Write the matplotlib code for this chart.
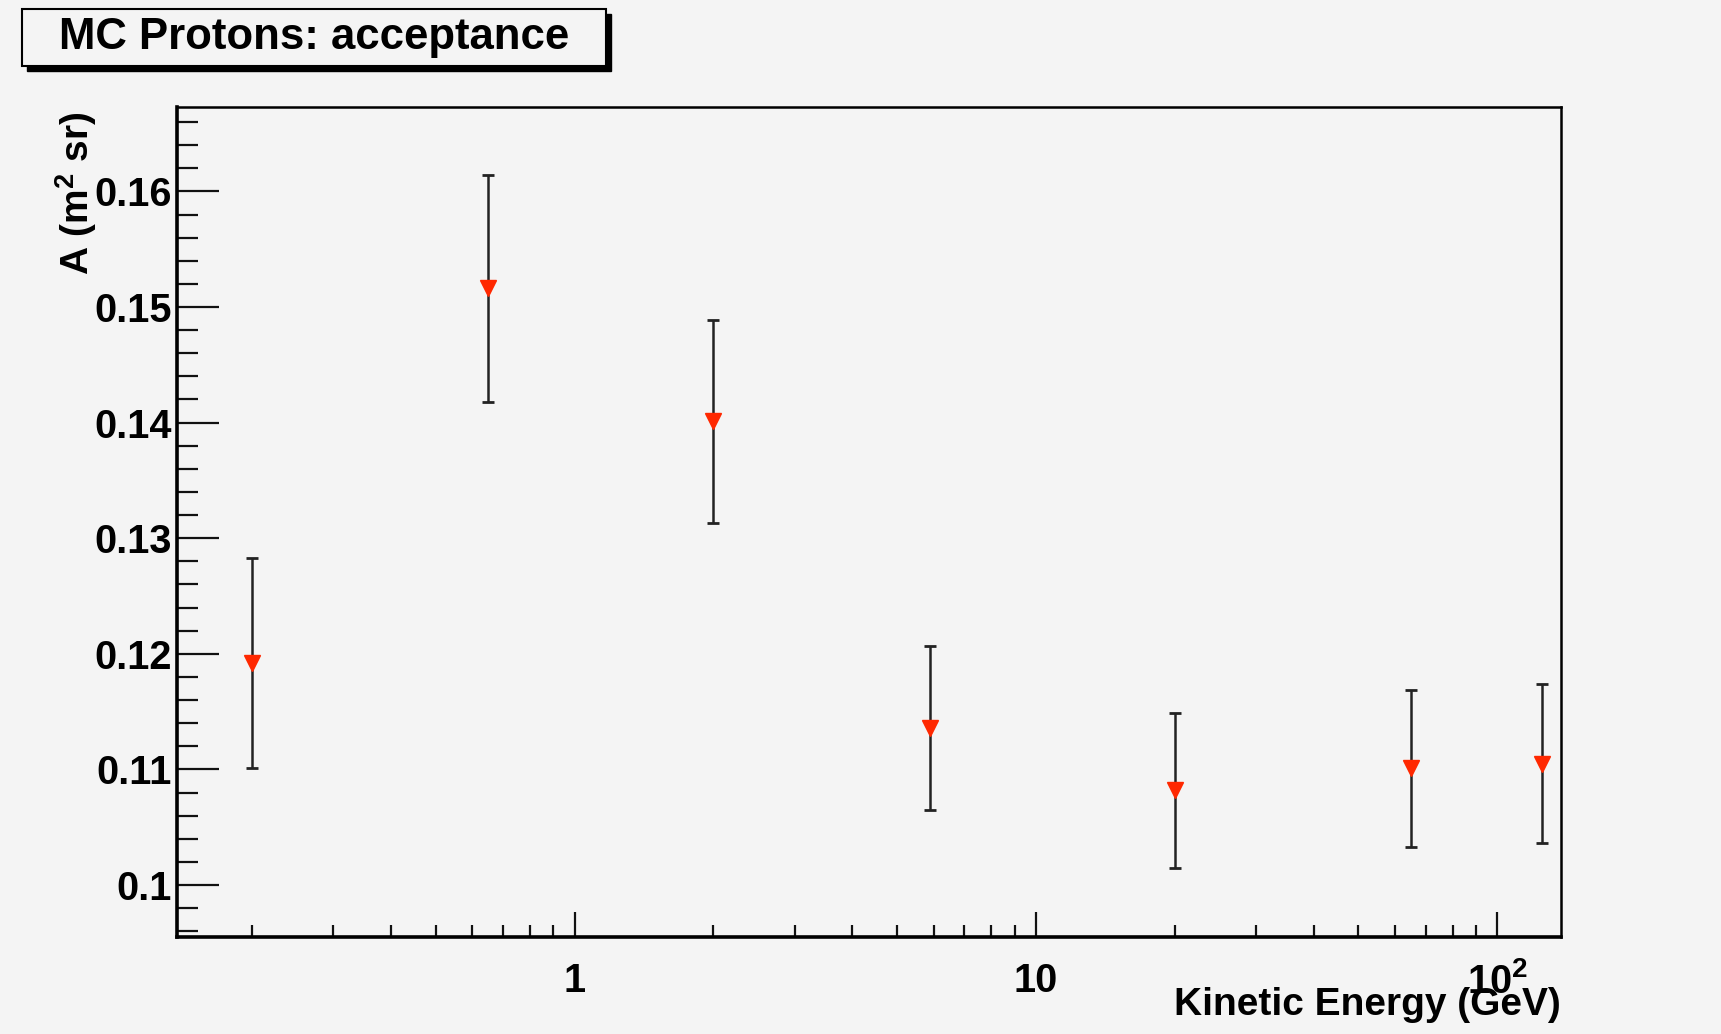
import numpy as np
import matplotlib.pyplot as plt
from matplotlib.patches import Rectangle
from matplotlib.ticker import FixedLocator, MultipleLocator, FixedFormatter, NullFormatter

plt.rcParams['font.family'] = 'Liberation Sans'
plt.rcParams['font.weight'] = 'bold'
plt.rcParams['axes.labelweight'] = 'bold'
plt.rcParams['mathtext.fontset'] = 'custom'
plt.rcParams['mathtext.rm'] = 'Liberation Sans:bold'
plt.rcParams['mathtext.it'] = 'Liberation Sans:bold'
plt.rcParams['mathtext.bf'] = 'Liberation Sans:bold'

# data
energy = [0.2, 0.65, 2.0, 5.9, 20.0, 65.0, 125.0]          # GeV
acceptance = [0.1192, 0.1516, 0.1401, 0.1136, 0.1082, 0.1101, 0.1105]
acc_err = [0.0091, 0.0098, 0.0088, 0.0071, 0.0067, 0.0068, 0.0069]

x_ticks = [1, 10, 100]
x_tick_labels = ['1', '10', '$10^{2}$']
x_minor = [m * d for d in (0.1, 1, 10) for m in range(2, 10)]
y_ticks = [0.10, 0.11, 0.12, 0.13, 0.14, 0.15, 0.16]
y_tick_labels = ['0.1', '0.11', '0.12', '0.13', '0.14', '0.15', '0.16']

bg = '#f4f4f4'
W, H = 1721, 1034
fig = plt.figure(figsize=(W / 100, H / 100), dpi=100, facecolor=bg)
ax = fig.add_axes([177 / W, 1 - 937 / H, (1561 - 177) / W, (937 - 107) / H], facecolor=bg)

ax.errorbar(energy, acceptance, yerr=acc_err, fmt='none', ecolor='#222222',
            elinewidth=1.8, capsize=4, capthick=2, zorder=2)
ax.plot(energy, acceptance, 'v', color='#ff2800', ms=12, mec='#ff2800', zorder=3)

ax.set_xscale('log')
ax.set_xlim(0.1375, 137.4)
ax.set_ylim(0.0955, 0.1673)

ax.xaxis.set_major_locator(FixedLocator(x_ticks))
ax.xaxis.set_major_formatter(FixedFormatter(x_tick_labels))
ax.xaxis.set_minor_locator(FixedLocator(x_minor))
ax.xaxis.set_minor_formatter(NullFormatter())
ax.yaxis.set_major_locator(FixedLocator(y_ticks))
ax.yaxis.set_major_formatter(FixedFormatter(y_tick_labels))
ax.yaxis.set_minor_locator(MultipleLocator(0.002))

ax.tick_params(axis='both', which='both', direction='in', top=False, right=False,
               width=1.6, color='#111111', labelsize=28.5)
ax.tick_params(axis='y', which='major', length=30, pad=4)
ax.tick_params(axis='y', which='minor', length=15)
ax.tick_params(axis='x', which='major', length=18, pad=18)
ax.tick_params(axis='x', which='minor', length=9)

for side in ['left', 'bottom']:
    ax.spines[side].set_linewidth(2.6)
for side in ['top', 'right']:
    ax.spines[side].set_linewidth(1.8)

ax.set_xlabel('Kinetic Energy (GeV)', fontsize=28, fontweight='bold', loc='right')
ax.xaxis.set_label_coords(1.0, -0.06)
ax.set_ylabel('A (m$^{2}$ sr)', fontsize=28, fontweight='bold', loc='top')
ax.yaxis.set_label_coords(-0.056, 0.995)

# title box with shadow, ROOT style
bx0, by0, bx1, by1 = 22, 9, 606, 66
sh = 5
fig.patches.append(Rectangle(((bx0 + sh) / W, 1 - (by1 + sh) / H), (bx1 - bx0) / W, (by1 - by0) / H,
                             transform=fig.transFigure, facecolor='black', edgecolor='black', zorder=1))
fig.patches.append(Rectangle((bx0 / W, 1 - by1 / H), (bx1 - bx0) / W, (by1 - by0) / H,
                             transform=fig.transFigure, facecolor=bg, edgecolor='black', lw=1.5, zorder=2))
fig.text((bx0 + bx1) / 2 / W, 1 - (by0 + by1) / 2 / H, 'MC Protons: acceptance',
         ha='center', va='center', fontsize=31.5, fontweight='bold', zorder=3)

fig.savefig('out.png', dpi=100, facecolor=bg)
